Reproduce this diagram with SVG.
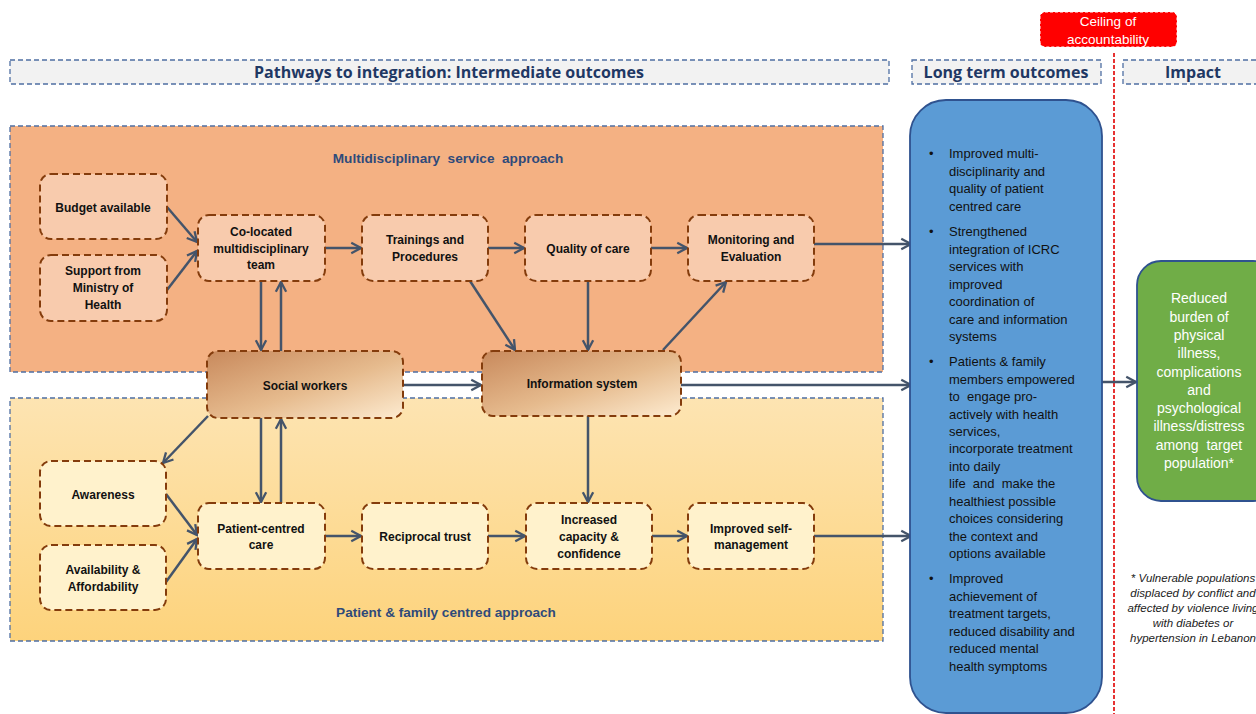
<svg xmlns="http://www.w3.org/2000/svg" width="1256" height="714" viewBox="0 0 1256 714">
<style>
text{white-space:pre}
.hdr{fill:#f2f2f2;stroke:#4f6fa3;stroke-width:1.3;stroke-dasharray:5 3}
.hdrt{font-family:"Open Sans","Liberation Sans",sans-serif;font-weight:bold;font-size:16px;fill:#1f3864;text-anchor:middle}
.sec{stroke:#4f6fa3;stroke-width:1.3;stroke-dasharray:5 3}
.sect{font-family:"Liberation Sans",sans-serif;font-weight:bold;font-size:13.6px;fill:#2f4a7a;text-anchor:middle}
.n{stroke:#843c0c;stroke-width:2;stroke-dasharray:7 4}
.top{fill:#f8cbad}
.bot{fill:#fff2cc}
.nt{font-family:"Liberation Sans",sans-serif;font-weight:bold;font-size:12px;fill:#111;text-anchor:middle}
.c{fill:none;stroke:#44546a;stroke-width:2.5;marker-end:url(#ah)}
.bt{font-family:"Liberation Sans",sans-serif;font-size:13px;fill:#111}
.gt{font-family:"Liberation Sans",sans-serif;font-size:14px;fill:#fff;text-anchor:middle}
.ft{font-family:"Liberation Sans",sans-serif;font-style:italic;font-size:11.5px;fill:#222;text-anchor:middle}
</style>
<defs>
<marker id="ah" viewBox="0 0 12 12" refX="10.5" refY="6" markerWidth="5.5" markerHeight="5.5" markerUnits="strokeWidth" orient="auto">
<path d="M2,1.5 L10.5,6 L2,10.5" fill="none" stroke="#44546a" stroke-width="2"/>
</marker>
<linearGradient id="yel" x1="0" y1="0" x2="0" y2="1">
<stop offset="0" stop-color="#fde4b2"/>
<stop offset="1" stop-color="#fdd37c"/>
</linearGradient>
<linearGradient id="brn" x1="0" y1="0" x2="1" y2="1">
<stop offset="0" stop-color="#c8895c"/>
<stop offset="0.55" stop-color="#e6bb8e"/>
<stop offset="1" stop-color="#fdebd0"/>
</linearGradient>
</defs>
<rect width="1256" height="714" fill="#fff"/>

<g id="headers">
<rect class="hdr" x="10" y="60" width="879" height="24"/>
<text class="hdrt" x="449" y="78">Pathways to integration: Intermediate outcomes</text>
<rect class="hdr" x="912" y="60" width="189" height="24"/>
<text class="hdrt" x="1006" y="78">Long term outcomes</text>
<rect class="hdr" x="1123" y="60" width="140" height="24"/>
<text class="hdrt" x="1193" y="78">Impact</text>
</g>

<g id="ceiling">
<rect x="1040" y="12" width="137" height="35" rx="5" fill="#ff0000" stroke="#fff" stroke-width="1" stroke-dasharray="3 2"/>
<text x="1108" y="26" font-family="Liberation Sans,sans-serif" font-size="13.5" fill="#fff" text-anchor="middle">Ceiling of</text>
<text x="1108" y="44" font-family="Liberation Sans,sans-serif" font-size="13.5" fill="#fff" text-anchor="middle">accountability</text>
<line x1="1114" y1="53" x2="1114" y2="714" stroke="#e00000" stroke-width="1.6" stroke-dasharray="4 2"/>
</g>

<g id="section-multidisciplinary">
<rect class="sec" x="10" y="126" width="873" height="246" fill="#f4b183"/>
<text class="sect" x="448" y="163">Multidisciplinary  service  approach</text>
</g>
<g id="section-patient">
<rect class="sec" x="10" y="398" width="873" height="243" fill="url(#yel)"/>
<text class="sect" x="446" y="617">Patient &amp; family centred approach</text>
</g>

<g id="connectors">
<line class="c" x1="167" y1="207" x2="197" y2="242"/>
<line class="c" x1="167" y1="290" x2="197" y2="251"/>
<line class="c" x1="325" y1="248" x2="361" y2="248"/>
<line class="c" x1="488" y1="248" x2="524" y2="248"/>
<line class="c" x1="651" y1="248" x2="687" y2="248"/>
<line class="c" x1="814" y1="244" x2="911" y2="244"/>
<line class="c" x1="261" y1="281" x2="261" y2="350"/>
<line class="c" x1="281" y1="351" x2="281" y2="282"/>
<line class="c" x1="470" y1="281" x2="515" y2="350"/>
<line class="c" x1="588" y1="281" x2="588" y2="350"/>
<line class="c" x1="663" y1="350" x2="726" y2="282"/>
<line class="c" x1="403" y1="385" x2="481" y2="385"/>
<line class="c" x1="681" y1="385" x2="911" y2="385"/>
<line class="c" x1="208" y1="416" x2="163" y2="463"/>
<line class="c" x1="261" y1="418" x2="261" y2="502"/>
<line class="c" x1="281" y1="503" x2="281" y2="419"/>
<line class="c" x1="166" y1="494" x2="197" y2="535"/>
<line class="c" x1="166" y1="582" x2="197" y2="539"/>
<line class="c" x1="325" y1="536" x2="361" y2="536"/>
<line class="c" x1="488" y1="536" x2="525" y2="536"/>
<line class="c" x1="652" y1="536" x2="687" y2="536"/>
<line class="c" x1="814" y1="536" x2="911" y2="536"/>
<line class="c" x1="588" y1="416" x2="588" y2="502"/>
<line class="c" x1="1101" y1="382" x2="1136" y2="382"/>
</g>

<g id="budget"><rect class="n top" x="40" y="174" width="127" height="65" rx="11"/><text class="nt" x="103" y="212">Budget available</text></g>
<g id="ministry"><rect class="n top" x="40" y="255" width="127" height="66" rx="11"/><text class="nt" x="103" y="275">Support from</text><text class="nt" x="103" y="292">Ministry of</text><text class="nt" x="103" y="309">Health</text></g>
<g id="colocated"><rect class="n top" x="198" y="215" width="127" height="66" rx="11"/><text class="nt" x="261" y="236">Co-located</text><text class="nt" x="261" y="253">multidisciplinary</text><text class="nt" x="261" y="269">team</text></g>
<g id="trainings"><rect class="n top" x="362" y="215" width="126" height="66" rx="11"/><text class="nt" x="425" y="244">Trainings and</text><text class="nt" x="425" y="261">Procedures</text></g>
<g id="quality"><rect class="n top" x="525" y="215" width="126" height="66" rx="11"/><text class="nt" x="588" y="253">Quality of care</text></g>
<g id="monitoring"><rect class="n top" x="688" y="215" width="126" height="66" rx="11"/><text class="nt" x="751" y="244">Monitoring and</text><text class="nt" x="751" y="261">Evaluation</text></g>

<g id="social"><rect class="n" x="207" y="351" width="196" height="67" rx="11" fill="url(#brn)"/><text class="nt" x="305" y="390">Social workers</text></g>
<g id="information"><rect class="n" x="482" y="351" width="199" height="65" rx="11" fill="url(#brn)"/><text class="nt" x="582" y="388">Information system</text></g>

<g id="awareness"><rect class="n bot" x="40" y="461" width="126" height="65" rx="11"/><text class="nt" x="103" y="499">Awareness</text></g>
<g id="availability"><rect class="n bot" x="40" y="545" width="126" height="65" rx="11"/><text class="nt" x="103" y="574">Availability &amp;</text><text class="nt" x="103" y="591">Affordability</text></g>
<g id="patientcentred"><rect class="n bot" x="198" y="503" width="127" height="66" rx="11"/><text class="nt" x="261" y="533">Patient-centred</text><text class="nt" x="261" y="549">care</text></g>
<g id="reciprocal"><rect class="n bot" x="362" y="503" width="126" height="66" rx="11"/><text class="nt" x="425" y="541">Reciprocal trust</text></g>
<g id="capacity"><rect class="n bot" x="526" y="503" width="126" height="66" rx="11"/><text class="nt" x="589" y="524">Increased</text><text class="nt" x="589" y="541">capacity &amp;</text><text class="nt" x="589" y="558">confidence</text></g>
<g id="selfmanagement"><rect class="n bot" x="688" y="503" width="126" height="66" rx="11"/><text class="nt" x="751" y="533">Improved self-</text><text class="nt" x="751" y="549">management</text></g>

<g id="longterm">
<rect x="910" y="100" width="192" height="613" rx="36" fill="#5b9bd5" stroke="#2f528f" stroke-width="1.8"/>
<g class="bt">
<text x="929" y="158">•</text>
<text x="949" y="158">Improved multi-</text>
<text x="949" y="175.5">disciplinarity and</text>
<text x="949" y="193">quality of patient</text>
<text x="949" y="210.5">centred care</text>
<text x="929" y="236">•</text>
<text x="949" y="236">Strengthened</text>
<text x="949" y="253.5">integration of ICRC</text>
<text x="949" y="271">services with</text>
<text x="949" y="288.5">improved</text>
<text x="949" y="306">coordination of</text>
<text x="949" y="323.5">care and information</text>
<text x="949" y="341">systems</text>
<text x="929" y="366">•</text>
<text x="949" y="366">Patients &amp; family</text>
<text x="949" y="383.5">members empowered</text>
<text x="949" y="401">to  engage pro-</text>
<text x="949" y="418.5">actively with health</text>
<text x="949" y="436">services,</text>
<text x="949" y="453">incorporate treatment</text>
<text x="949" y="470.5">into daily</text>
<text x="949" y="488">life  and  make the</text>
<text x="949" y="505.5">healthiest possible</text>
<text x="949" y="523">choices considering</text>
<text x="949" y="540.5">the context and</text>
<text x="949" y="558">options available</text>
<text x="929" y="583">•</text>
<text x="949" y="583">Improved</text>
<text x="949" y="600.5">achievement of</text>
<text x="949" y="618">treatment targets,</text>
<text x="949" y="635.5">reduced disability and</text>
<text x="949" y="653">reduced mental</text>
<text x="949" y="670.5">health symptoms</text>
</g>
</g>

<g id="impact">
<rect x="1137" y="261" width="140" height="240" rx="24" fill="#70ad47" stroke="#2f528f" stroke-width="1.8"/>
<g class="gt">
<text x="1199" y="303">Reduced</text>
<text x="1199" y="321.5">burden of</text>
<text x="1199" y="340">physical</text>
<text x="1199" y="358">illness,</text>
<text x="1199" y="376.5">complications</text>
<text x="1199" y="395">and</text>
<text x="1199" y="413">psychological</text>
<text x="1199" y="431">illness/distress</text>
<text x="1199" y="449.5">among  target</text>
<text x="1199" y="468">population*</text>
</g>
</g>

<g id="footnote" class="ft">
<text x="1193" y="582">* Vulnerable populations</text>
<text x="1193" y="597">displaced by conflict and</text>
<text x="1193" y="612">affected by violence living</text>
<text x="1193" y="627">with diabetes or</text>
<text x="1193" y="642">hypertension in Lebanon</text>
</g>
</svg>
